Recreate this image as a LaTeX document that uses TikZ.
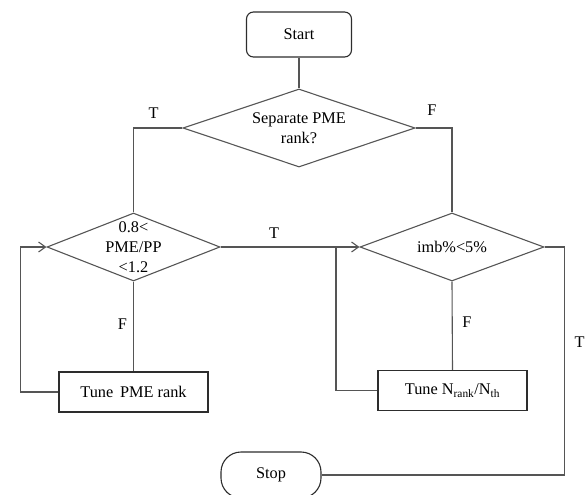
\documentclass[tikz,border=0pt]{standalone}
\usepackage{fontspec}
\setmainfont{Liberation Serif}
\usetikzlibrary{shapes.geometric}
\usetikzlibrary{arrows.meta}

\definecolor{linegray}{RGB}{85,85,85}
\definecolor{boxgray}{RGB}{45,45,45}

\tikzset{
   terminal/.style  = {draw=boxgray, line width=1.1pt, rounded corners=7pt,
                       minimum width=105pt, minimum height=45pt},
   decision/.style  = {draw=linegray, line width=1.1pt, diamond, inner sep=-10pt, align=center},
   process/.style   = {draw=boxgray, line width=1.1pt, minimum width=149pt, minimum height=40pt},
   flow/.style      = {draw=linegray, line width=1.1pt},
   flowarrow/.style = {flow, -{Straight Barb[length=7pt,width=10pt]}},
   branch/.style    = {inner sep=0pt},
}

\begin{document}
\begin{tikzpicture}[x=1pt, y=-1pt, font=\fontsize{16.3pt}{20pt}\selectfont]
   \clip (0,0) rectangle (587,495);

   \node [terminal] (start) at (299, 34.5) {Start};
   \node [decision, aspect=2.97, minimum width=232pt, minimum height=78pt] (sep)   at (299, 128) {Separate PME\\rank?};
   \node [decision, aspect=2.54, minimum width=173pt, minimum height=68pt] (ratio) at (133.5, 247) {0.8<\\PME/PP\\<1.2};
   \node [decision, aspect=2.70, minimum width=184pt, minimum height=68pt] (imb)   at (452, 247) {imb\%<5\%};
   \node [process] (tune1) at (133.5, 392)   {Tune\, PME rank};
   \node [process] (tune2) at (452.5, 390.5) {Tune N\textsubscript{rank}/N\textsubscript{th}};
   \node [terminal, rounded corners=20pt, minimum width=100pt, minimum height=46pt] (stop) at (271, 475) {Stop};

   \node [branch] (t1) at (153.5, 113) {T};
   \node [branch] (f1) at (432, 110)   {F};
   \node [branch] (t2) at (274, 233)   {T};
   \node [branch] (f2) at (122.5, 324) {F};
   \node [branch] (f3) at (467, 322)   {F};
   \node [branch] (t3) at (579.5, 342) {T};

   \coordinate (merge) at (336, 247);

   \draw [flow]      (start.south) -- (sep.north);
   \draw [flow]      (sep.west) -| (ratio.north);
   \draw [flow]      (sep.east) -| (imb.north);
   \draw [flowarrow] (ratio.east) -- (imb.west);
   \draw [flow]      (ratio.south) -- (tune1.north);
   \draw [flowarrow] (tune1.west) -- ++(-38, 0) |- (ratio.west);
   \draw [flow]      (imb.south) -- (tune2.north);
   \draw [flow]      (tune2.west) -| (merge);
   \draw [flow]      (imb.east) -- ++(20, 0) |- (stop.east);
\end{tikzpicture}
\end{document}
